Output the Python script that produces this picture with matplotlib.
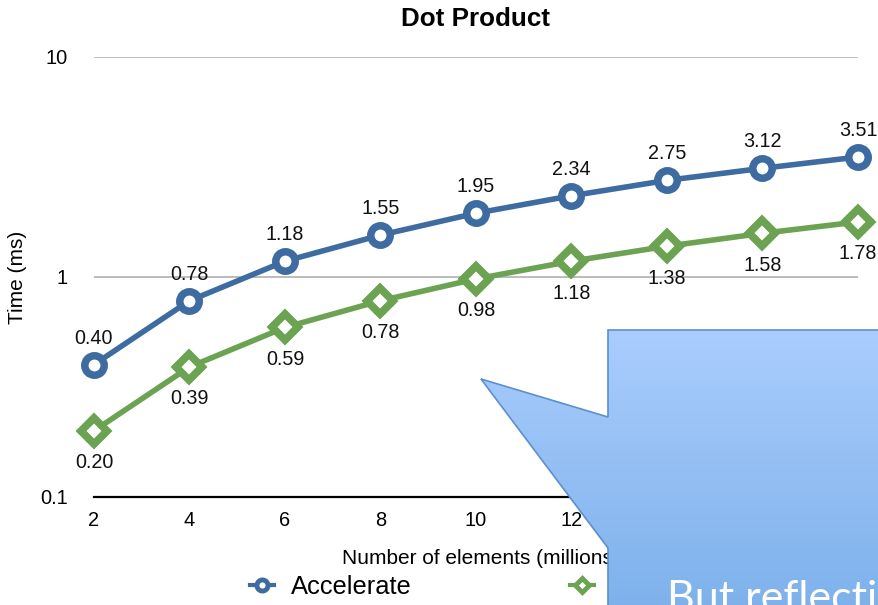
import numpy as np
import matplotlib.pyplot as plt
from matplotlib.lines import Line2D
from matplotlib.patches import Polygon
from matplotlib.colors import LinearSegmentedColormap

plt.rcParams['font.family'] = ['Liberation Sans', 'DejaVu Sans']

# ---------------- data ----------------
elements = [2, 4, 6, 8, 10, 12, 14, 16, 18]
accelerate_ms = [0.40, 0.78, 1.18, 1.55, 1.95, 2.34, 2.75, 3.12, 3.51]
scalar_ms = [0.20, 0.39, 0.59, 0.78, 0.98, 1.18, 1.38, 1.58, 1.78]

y_ticks = [0.1, 1, 10]
y_tick_labels = ['0.1', '1', '10']

BLUE = '#3E6CA1'
GREEN = '#6BA353'

W, H = 879, 605
fig = plt.figure(figsize=(W / 100, H / 100), dpi=100)
ax = fig.add_axes([94 / W, 1 - 497 / H, (858 - 94) / W, (497 - 57) / H])

ax.plot(elements, accelerate_ms, color=BLUE, lw=4, marker='o', ms=14,
        mew=5.4, mfc='white', mec=BLUE, clip_on=False, zorder=3)
ax.plot(elements, scalar_ms, color=GREEN, lw=4, marker='D', ms=13.5,
        mew=5.6, mfc='white', mec=GREEN, clip_on=False, zorder=3)

# value labels: blue above, green below
for x, v in zip(elements, accelerate_ms):
    ax.annotate(f'{v:.2f}', (x, v), xytext=(0, 19), textcoords='offset points',
                ha='center', va='center', fontsize=14.2, color='#111111')
for x, v in zip(elements, scalar_ms):
    ax.annotate(f'{v:.2f}', (x, v), xytext=(0, -23), textcoords='offset points',
                ha='center', va='center', fontsize=14.2, color='#111111')

ax.set_yscale('log')
ax.set_ylim(0.1, 10)
ax.set_xlim(2, 18)
ax.set_xticks(elements)
ax.set_yticks(y_ticks)
ax.set_yticklabels(y_tick_labels)
ax.yaxis.set_minor_locator(plt.NullLocator())
ax.tick_params(axis='both', length=0, labelsize=14.4)
ax.tick_params(axis='x', pad=10)
ax.tick_params(axis='y', pad=19)

for s in ['top', 'left', 'right']:
    ax.spines[s].set_visible(False)
ax.spines['bottom'].set_linewidth(1.6)
ax.spines['bottom'].set_color('black')
ax.grid(axis='y', which='major', color='#AAAAAA', lw=1.1)
ax.set_axisbelow(True)

ax.set_title('Dot Product', fontsize=18.7, fontweight='bold', pad=22)
ax.set_ylabel('Time (ms)', fontsize=15, labelpad=9)
ax.set_xlabel('Number of elements (millions)', fontsize=15, labelpad=14)
ax.xaxis.label.set_x(0.507)

handles = [
    Line2D([], [], color=BLUE, lw=3, marker='o', ms=8, mew=3.5, mfc='white', mec=BLUE),
    Line2D([], [], color=GREEN, lw=3, marker='D', ms=7, mew=3.5, mfc='white', mec=GREEN),
]
fig.legend(handles, ['Accelerate', 'Scalar loop'], loc='center left',
           bbox_to_anchor=(250 / W, 1 - 587 / H), ncol=2, frameon=False,
           fontsize=18.4, handlelength=0.95, handletextpad=0.65,
           columnspacing=6.2, borderpad=0, borderaxespad=0)

# ---------------- callout overlay ----------------
ov = fig.add_axes([0, 0, 1, 1], zorder=10)
ov.axis('off')
ov.patch.set_alpha(0)

callout = [(481, 379), (608, 417), (608, 330), (900, 330), (900, 640),
           (608, 640), (608, 548)]
shadow = Polygon([(x + 2, y + 2) for x, y in callout], closed=True,
                 facecolor='#000000', alpha=0.10, edgecolor='none', zorder=0)
ov.add_patch(shadow)
cmap = LinearSegmentedColormap.from_list('callout', ['#AACDFD', '#79AEE9'])
grad = np.linspace(0, 1, 256).reshape(-1, 1)
im = ov.imshow(grad, cmap=cmap, extent=[470, 900, 640, 330], aspect='auto',
               interpolation='bilinear', zorder=1)
poly = Polygon(callout, closed=True, facecolor='none', edgecolor='#5C8FD0',
               lw=1.2, zorder=2)
ov.add_patch(poly)
im.set_clip_path(poly)
ov.text(667, 611, 'But reflecting', fontsize=31, color='white',
        family=['Lato', 'Open Sans', 'DejaVu Sans'], va='baseline', ha='left',
        zorder=3)
ov.set_xlim(0, W)
ov.set_ylim(H, 0)

fig.savefig('out.png', dpi=100)
